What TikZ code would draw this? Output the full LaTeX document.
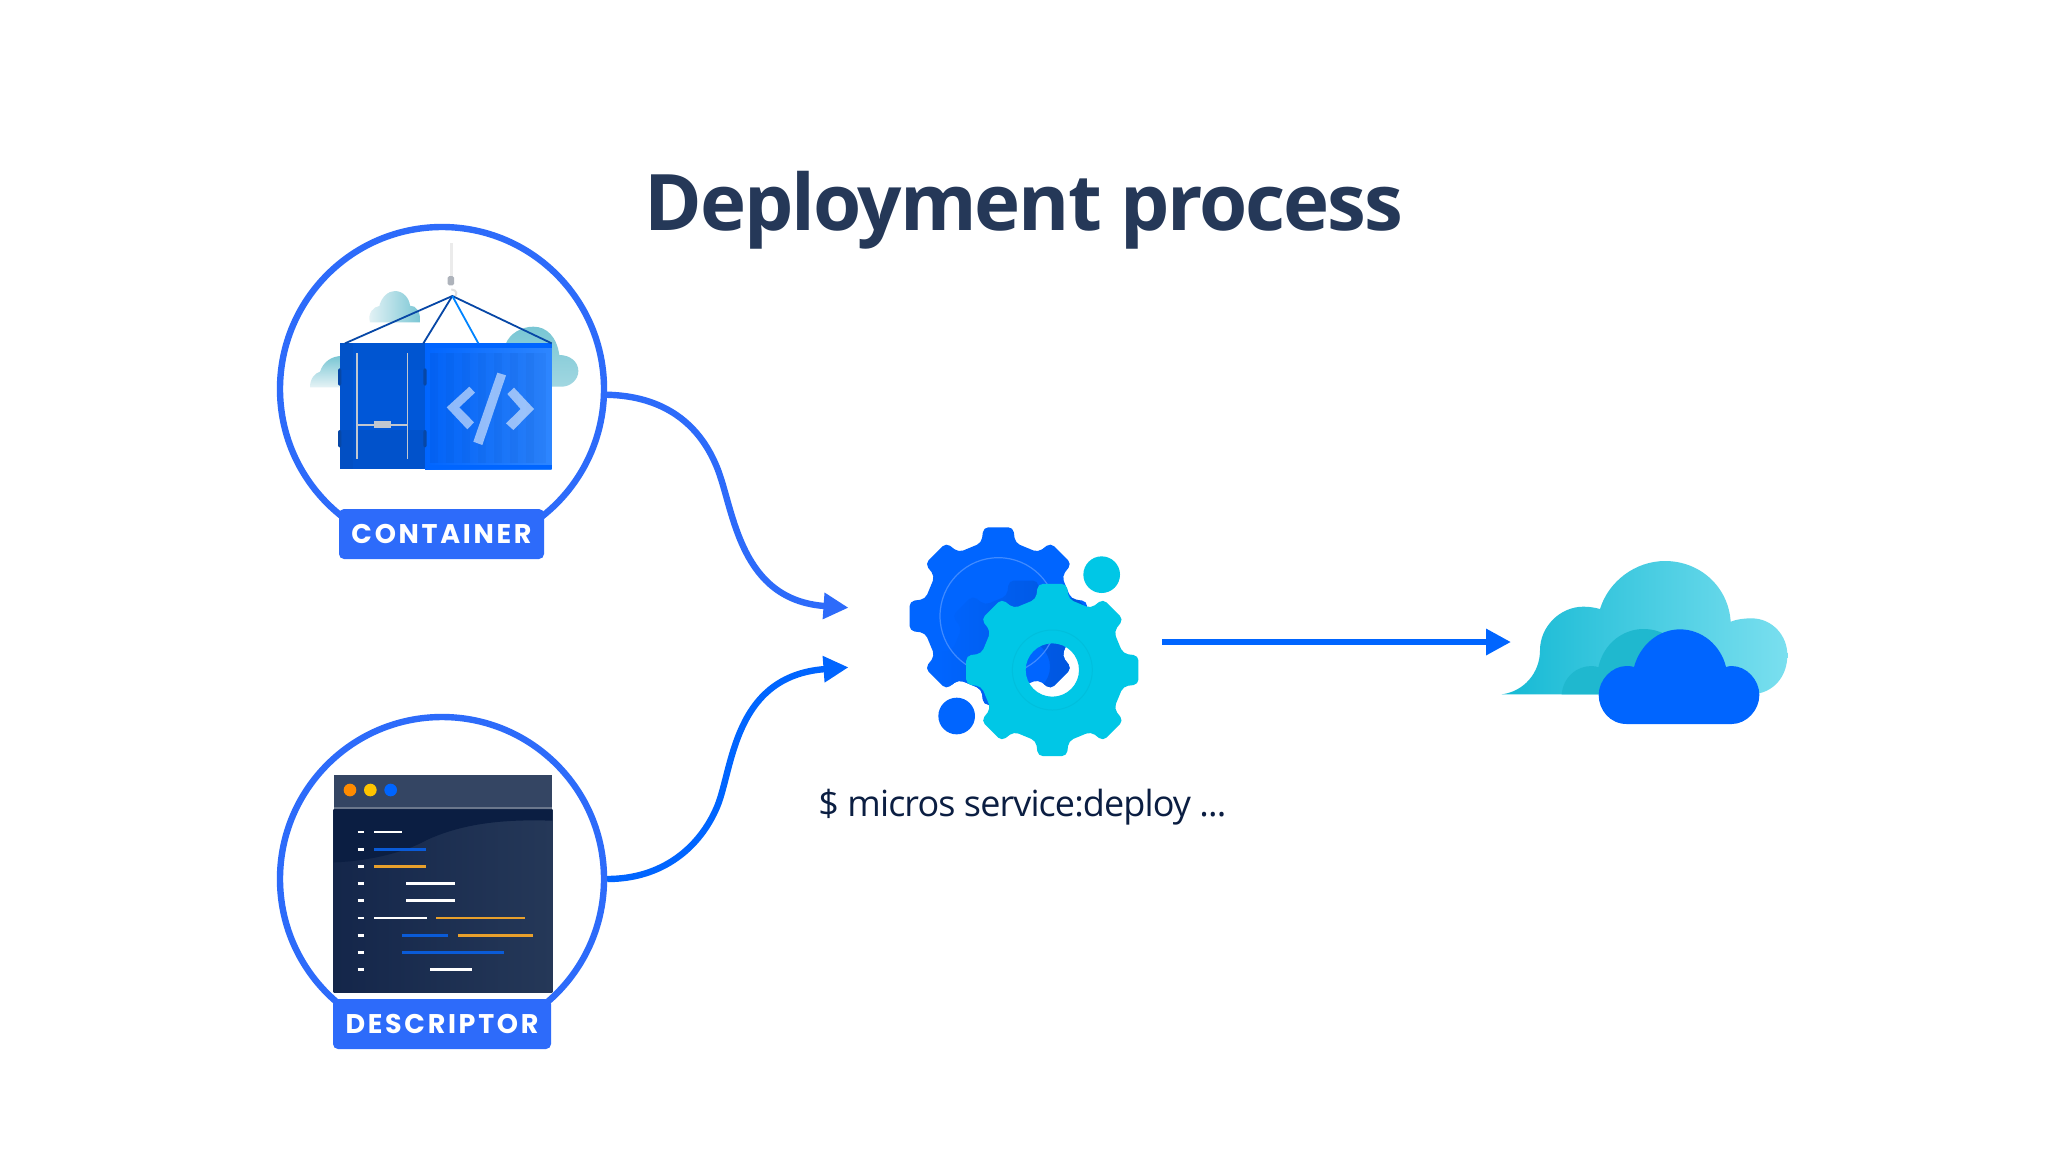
\documentclass[tikz,border=0pt]{standalone}
\usepackage{fontspec}
\setmainfont{Open Sans}
\newfontfamily\titlefont{Open Sans}[LetterSpace=-2.6]
\newfontfamily\cmdfont{Open Sans}[LetterSpace=-2.5]
\newfontfamily\tagfont{Poppins}[LetterSpace=10.0]
\usetikzlibrary{arrows.meta}

\definecolor{ringblue}{HTML}{2D6BFA}
\definecolor{linkblue}{HTML}{0065FF}
\definecolor{panelblue}{HTML}{2E86FF}
\definecolor{gearcyan}{HTML}{00C7E6}
\definecolor{geardark}{HTML}{0052D6}
\definecolor{titlenavy}{HTML}{253858}
\definecolor{barnavy}{HTML}{344563}
\definecolor{sepgrey}{HTML}{6B778C}
\definecolor{cmdnavy}{HTML}{0B1E42}
\definecolor{bodynavy}{HTML}{14264A}
\definecolor{doorblue}{HTML}{0057D8}
\definecolor{cablenavy}{HTML}{0747A6}
\definecolor{rodgrey}{HTML}{C1C7D0}
\definecolor{cloudteal}{HTML}{79C6D4}
\definecolor{cloudpale}{HTML}{E6F3F6}
\definecolor{cloudleft}{HTML}{14B9D4}
\definecolor{cloudright}{HTML}{7ADFEF}
\definecolor{cloudinner}{HTML}{1FB8CF}
\definecolor{codeorange}{HTML}{E8A02C}
\definecolor{codeblue}{HTML}{0A5BD8}
\definecolor{dotorange}{HTML}{FF8B00}
\definecolor{dotyellow}{HTML}{FFC400}

% gear outline: outer radius, root radius
\newcommand{\gearoutline}[2]{(-22.5:{0.983*#2}) foreach \a in {0,45,...,315} {
  -- ({\a-13}:#2) -- ({\a-9.5}:#1) -- ({\a+9.5}:#1) -- ({\a+13}:#2) } -- cycle}

\tikzset{
  zoomed/.style 2 args={shift={(#1,#2)},x=.16667pt,y=-.16667pt},
  ring/.style={circle,draw=ringblue,line width=3.2pt,minimum size=162pt,inner sep=0pt},
  tag/.style={fill=ringblue,rounded corners=2.5pt,text=white,inner sep=0pt,
    minimum height=25pt,font=\tagfont\bfseries\fontsize{13.5}{14}\selectfont},
  link/.style={line width=3.2pt,-{Triangle[length=12.5pt,width=12.5pt]}},
  codeline/.style={line width=1.3pt},
  rod/.style={draw=rodgrey,line width=.8pt},
}

\begin{document}
\begin{tikzpicture}[x=.5pt,y=-.5pt]
\fill[white] (0,0) rectangle (2048,1152);

% title and command
\node[anchor=base west,inner sep=0pt,text=titlenavy,font=\titlefont\bfseries\fontsize{39}{40}\selectfont] (title) at (644,230) {Deployment process};
\node[anchor=base west,inner sep=0pt,text=cmdnavy,font=\cmdfont\fontsize{18}{20}\selectfont] (cmd) at (818,816) {\$ micros service:deploy ...};

% rings
\node[ring] (cont) at (442,389) {};
\node[ring] (desc) at (442,879) {};

% container
\begin{scope}[zoomed={260}{210}]
  % clouds behind
  \path[left color=cloudpale,right color=cloudteal] (330,337) .. controls (322,310) and (340,290) .. (358,288)
    .. controls (365,260) and (385,243) .. (405,243) .. controls (430,243) and (448,265) .. (450,287)
    .. controls (470,287) and (482,305) .. (480,337) -- cycle;
  \path[top color=cloudteal,bottom color=cloudpale] (150,532) .. controls (150,505) and (165,490) .. (180,485)
    .. controls (190,455) and (215,438) .. (245,438) -- (245,532) -- cycle;
  \path[top color=cloudteal,bottom color=cloudteal!70!white] (738,400) .. controls (750,370) and (785,350) .. (820,350)
    .. controls (860,350) and (890,380) .. (898,435) .. controls (930,435) and (955,455) .. (955,483)
    .. controls (955,510) and (930,530) .. (905,530) -- (860,530) -- cycle;
  % side panel
  \path[left color=linkblue,right color=panelblue] (495,400) rectangle (875,778);
  \fill[cablenavy,opacity=.08] (510,430) rectangle (858,760);
  \foreach \sx in {510,558,606,654,702,750,798}
    \fill[cablenavy,opacity=.07] (\sx,430) rectangle ++(24,330);
  \fill[linkblue] (495,400) rectangle (875,415);
  \fill[linkblue] (495,765) rectangle (875,778);
  % code symbol
  \fill[white,opacity=.55] (628,530) -- (645,548) -- (598,592) -- (642,637) -- (622,658) -- (560,592) -- cycle;
  \fill[white,opacity=.55] (762,533) -- (742,552) -- (782,597) -- (738,640) -- (760,660) -- (822,597) -- cycle;
  \fill[white,opacity=.55] (712,488) -- (738,496) -- (667,705) -- (640,695) -- cycle;
  % door
  \fill[doorblue] (240,400) rectangle (495,778);
  \fill[cablenavy,opacity=.25] (240,660) rectangle (495,778);
  \fill[cablenavy,opacity=.12] (240,400) rectangle (495,480);
  \fill[cablenavy,opacity=.2] (240,400) rectangle (280,778);
  \foreach \hy in {475,660} {
    \fill[cablenavy,rounded corners=1pt] (234,\hy) rectangle ++(10,52);
    \fill[cablenavy,rounded corners=1pt] (490,\hy) rectangle ++(10,52);
  }
  \draw[rod] (291,430) -- (291,748);
  \draw[rod] (442,430) -- (442,748);
  \draw[rod] (291,645) -- (442,645);
  \fill[rodgrey] (342,632) rectangle (392,654);
  % hook and cables
  \draw[black!8,line width=1.5pt] (573,100) -- (573,198);
  \fill[rodgrey!90!black,rounded corners=.8pt] (563,198) rectangle (582,226);
  \draw[black!12,line width=1pt] (574,238) .. controls (592,240) and (594,255) .. (580,262);
  \draw[cablenavy,line width=.9pt] (255,400) -- (577,258) -- (875,400);
  \draw[cablenavy,line width=.9pt] (490,400) -- (577,258);
  \draw[linkblue!80!cyan,line width=.9pt] (655,400) -- (577,258);
\end{scope}

% descriptor window
\begin{scope}[zoomed={260}{700}]
  \path[left color=bodynavy,right color=titlenavy] (221,328) rectangle (877,876);
  \fill[cmdnavy] (221,328) -- (877,328) -- (877,362) .. controls (750,358) and (620,365) .. (500,420)
    .. controls (420,465) and (300,485) .. (221,487) -- cycle;
  \fill[barnavy] (221,225) rectangle (877,320);
  \fill[sepgrey] (221,320) rectangle (877,328);
  \fill[dotorange] (270,270) circle (19);
  \fill[dotyellow] (331,270) circle (19);
  \fill[linkblue] (392,270) circle (19);
  \foreach \ly in {396,448,499,551,602,654,706,757,808}
    \draw[codeline,white] (293,\ly) -- (313,\ly);
  \draw[codeline,white] (342,396) -- (425,396);
  \draw[codeline,codeblue] (342,448) -- (498,448);
  \draw[codeline,codeorange] (342,499) -- (498,499);
  \draw[codeline,white] (439,551) -- (585,551);
  \draw[codeline,white] (439,602) -- (585,602);
  \draw[codeline,white] (342,654) -- (500,654);
  \draw[codeline,codeorange] (528,654) -- (795,654);
  \draw[codeline,codeblue] (426,706) -- (565,706);
  \draw[codeline,codeorange] (595,706) -- (820,706);
  \draw[codeline,codeblue] (426,757) -- (732,757);
  \draw[codeline,white] (510,808) -- (636,808);
\end{scope}

% labels
\node[tag,minimum width=102.5pt] (conttag) at (441.5,534) {CONTAINER};
\node[tag,minimum width=109pt] (desctag) at (442,1024) {DESCRIPTOR};

% gears
\begin{scope}[zoomed={880}{500}]
  \fill[gearcyan] (665,224) circle (55);
  \fill[linkblue] (230,648) circle (55);
  \fill[linkblue,shift={(355,348)},rounded corners=2.5pt] \gearoutline{270}{225};
  \begin{scope}
    \clip[shift={(355,348)},rounded corners=2.5pt] \gearoutline{270}{225};
    \path[shift={(430,500)},even odd rule,left color=linkblue,middle color=geardark,right color=geardark,rounded corners=2.5pt]
      \gearoutline{262}{218} (0,0) circle (80);
  \end{scope}
  \draw[white!25!linkblue,line width=.6pt] (355,348) circle (175);
  \fill[shift={(517,510)},gearcyan,even odd rule,rounded corners=2.5pt] \gearoutline{262}{218} (0,0) circle (80);
  \draw[gearcyan!96!black,line width=.5pt] (517,510) circle (120);
\end{scope}

% big cloud
\begin{scope}[zoomed={1480}{540}]
  \path[left color=cloudleft,right color=cloudright] (65,463)
    .. controls (130,455) and (180,400) .. (180,330)
    .. controls (180,260) and (240,200) .. (310,200)
    .. controls (330,200) and (345,203) .. (360,207)
    .. controls (385,125) and (465,63) .. (555,63)
    .. controls (660,63) and (745,140) .. (752,245)
    .. controls (770,238) and (790,235) .. (815,235)
    .. controls (875,235) and (922,285) .. (922,345)
    .. controls (922,410) and (880,460) .. (815,463) -- cycle;
  \fill[cloudinner] (245,463) .. controls (250,410) and (290,378) .. (335,378)
    .. controls (345,378) and (350,380) .. (355,382)
    .. controls (370,310) and (430,267) .. (490,267)
    .. controls (540,267) and (580,290) .. (600,330) -- (600,463) -- cycle;
  \fill[linkblue] (440,552) .. controls (390,552) and (356,510) .. (356,465)
    .. controls (356,420) and (395,378) .. (440,378)
    .. controls (450,378) and (455,379) .. (462,381)
    .. controls (480,315) and (535,268) .. (600,268)
    .. controls (665,268) and (722,315) .. (738,381)
    .. controls (745,379) and (750,378) .. (755,378)
    .. controls (800,378) and (838,420) .. (838,465)
    .. controls (838,510) and (800,552) .. (755,552) -- cycle;
\end{scope}

% connectors
\coordinate (gearinA) at (848.5,607.7);
\coordinate (gearinB) at (848.5,667.3);
\coordinate (gearout) at (1162,642);
\coordinate (cloudin) at (1511,642);
\draw[link,ringblue] (cont.-2) .. controls (663,396) and (700,423) .. (718,470)
  .. controls (734,512) and (740,600) .. (gearinA);
\draw[link,linkblue] (desc.east) .. controls (663,879) and (700,847) .. (717,807)
  .. controls (733,769) and (733,676) .. (gearinB);
\draw[link,linkblue] (gearout) -- (cloudin);
\end{tikzpicture}
\end{document}
